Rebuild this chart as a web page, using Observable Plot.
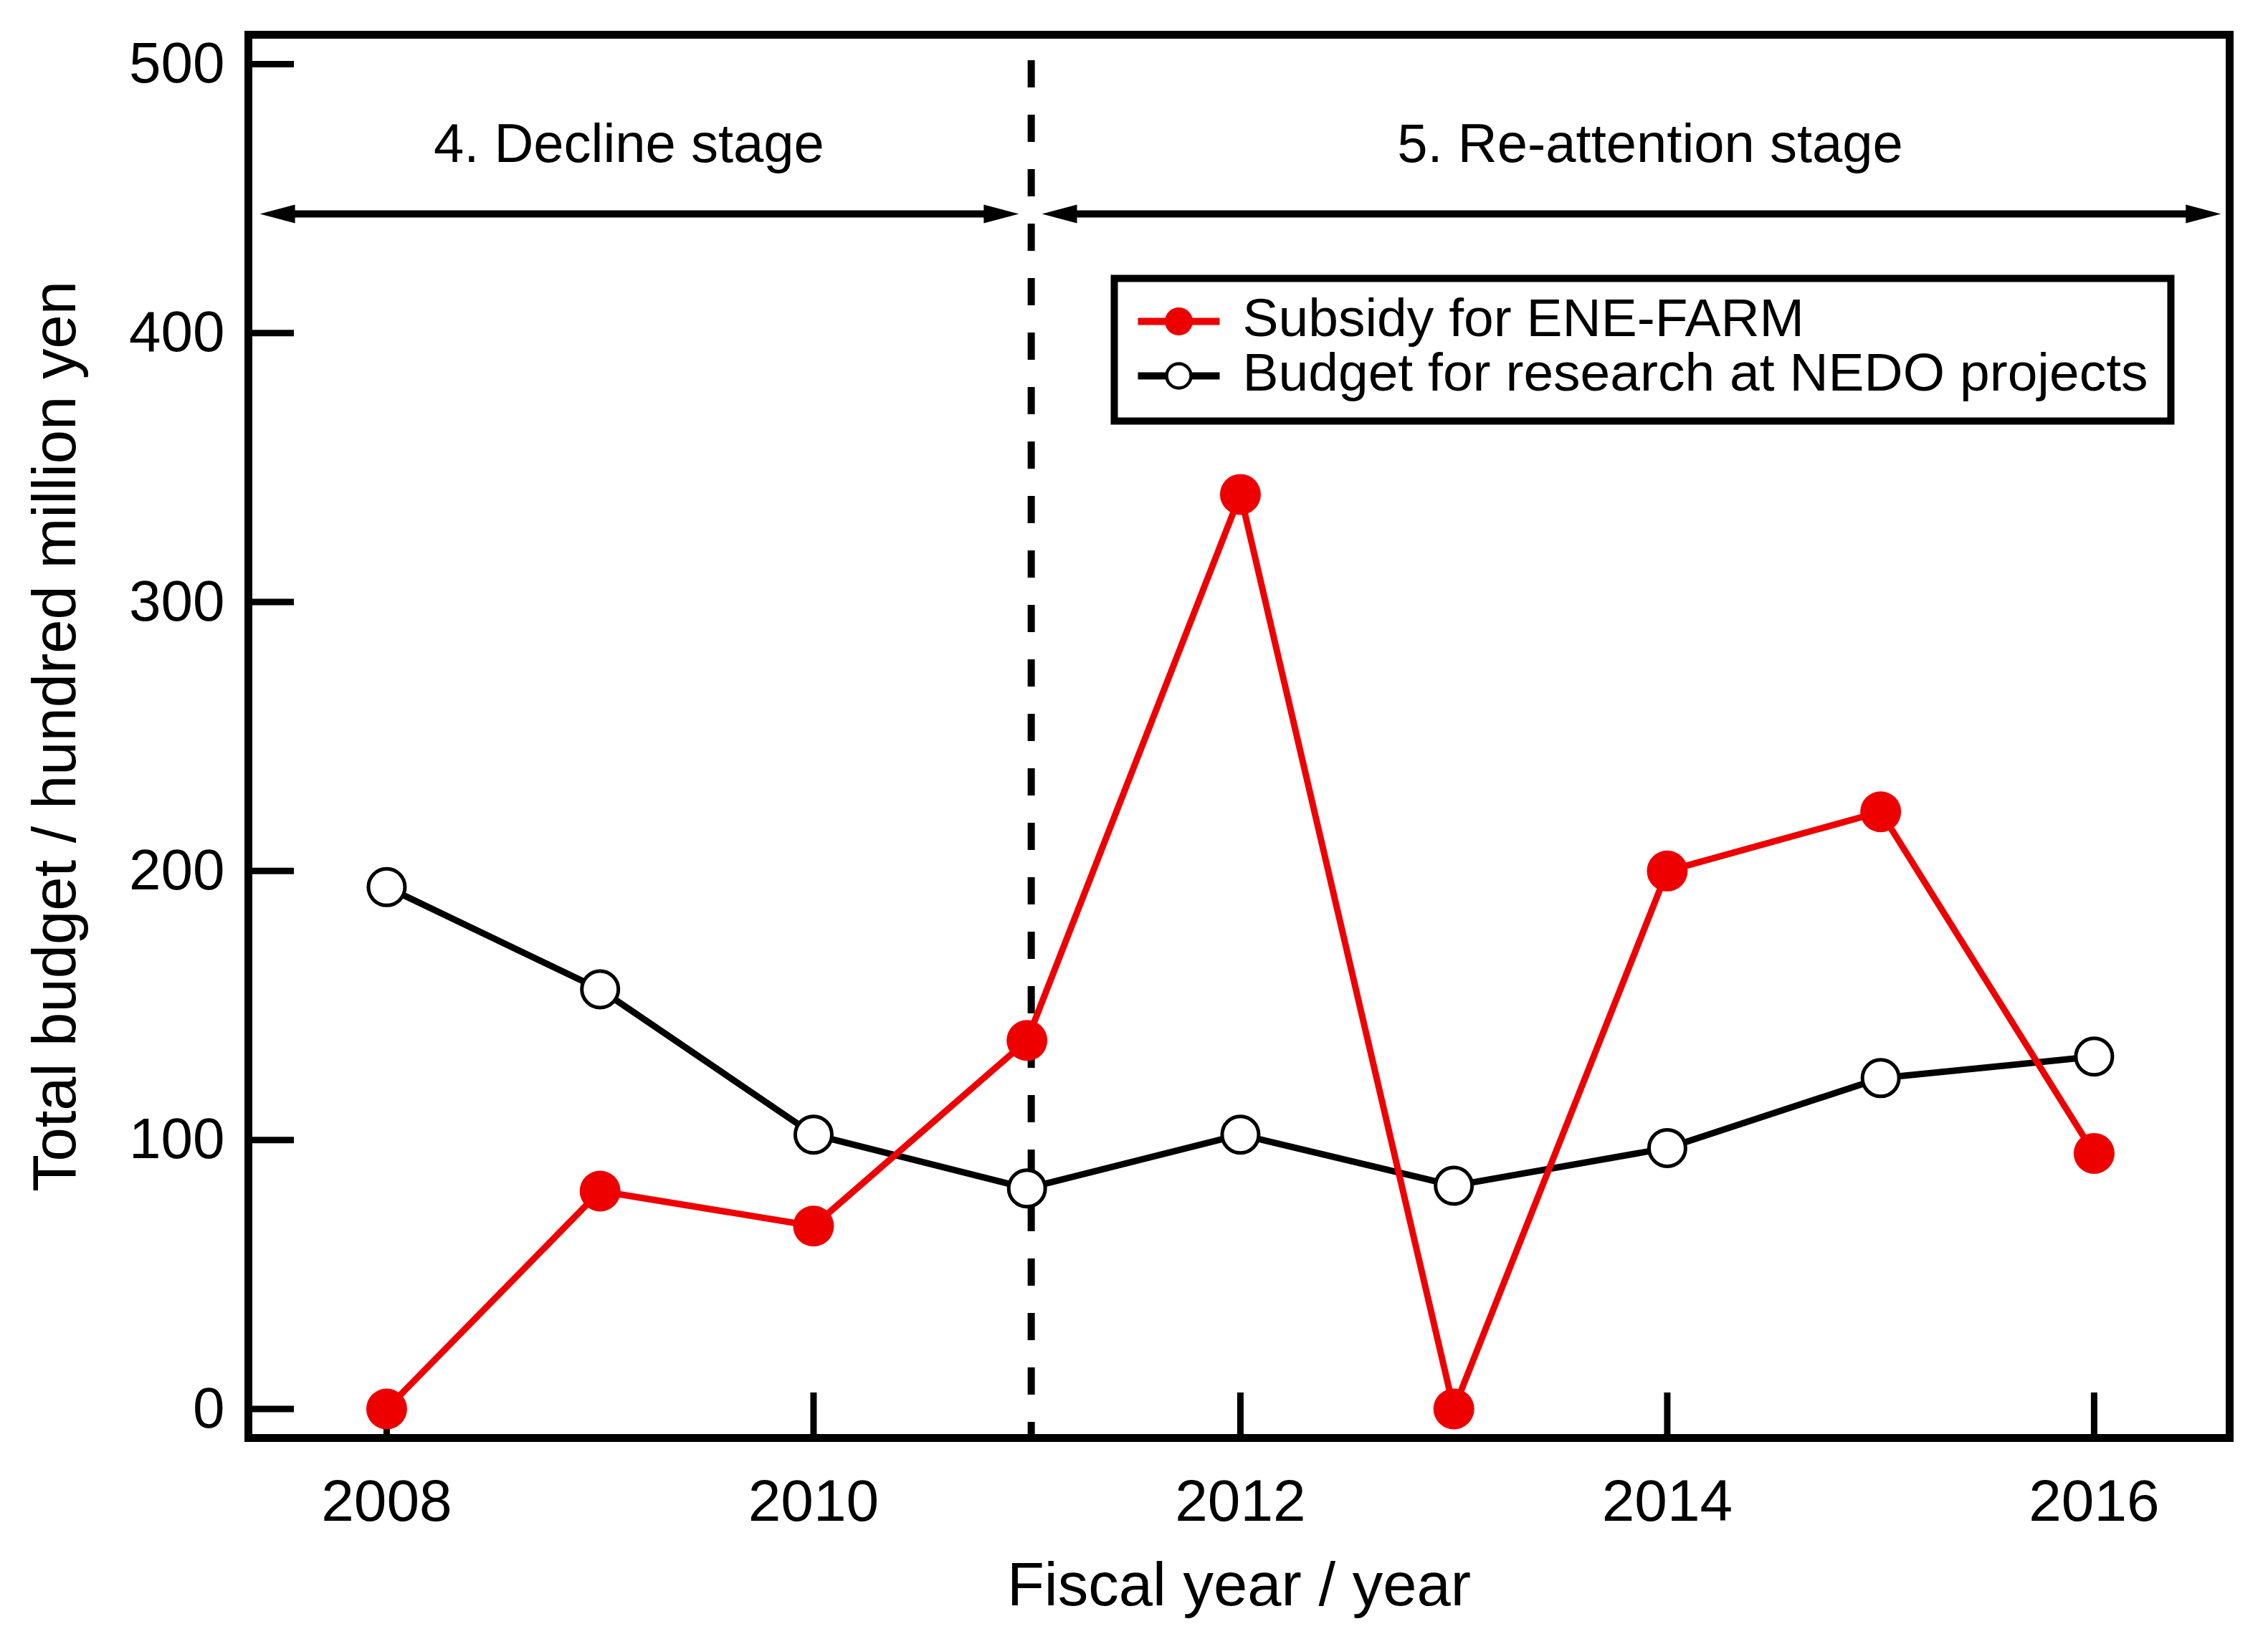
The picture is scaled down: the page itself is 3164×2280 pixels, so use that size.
<!DOCTYPE html>
<html>
<head>
<meta charset="utf-8">
<script src="https://cdn.jsdelivr.net/npm/d3@7"></script>
<script src="https://cdn.jsdelivr.net/npm/@observablehq/plot@0.6"></script>
<style>
  html, body { margin: 0; padding: 0; background: #fff; }
  #chart { width: 3164px; height: 2280px; }
</style>
</head>
<body>
<div id="chart"></div>
<script>
// ---- data ----
const years = [2008, 2009, 2010, 2011, 2012, 2013, 2014, 2015, 2016];
const subsidy = [0, 81, 68, 137, 340, 0, 200, 222, 95];
const nedo = [194, 156, 102, 82, 102, 83, 97, 123, 131];
const seriesNames = ["Subsidy for ENE-FARM", "Budget for research at NEDO projects"];
const xTicks = [2008, 2010, 2012, 2014, 2016];
const yTicks = [0, 100, 200, 300, 400, 500];
const stageNames = ["4. Decline stage", "5. Re-attention stage"];
const stageLabelX = [2009.135, 2013.92];
const stageBoundary = [2011.02];
const stageSpans = [[2007.406, 2010.962], [2011.07, 2016.594]];
const xTitle = "Fiscal year / year";
const yTitle = "Total budget / hundred million yen";

// ---- layout ----
const W = 3164, H = 2280;
const ml = 346, mr = 54, mt = 48, mb = 274;
const xDom = [2007.352, 2016.635];
const yDom = [-10.8, 510.9];
const pw = W - ml - mr, ph = H - mt - mb;
const X = px => xDom[0] + (px - ml) / pw * (xDom[1] - xDom[0]);
const Y = py => yDom[1] - (py - mt) / ph * (yDom[1] - yDom[0]);
const dX = px => px / pw * (xDom[1] - xDom[0]);
const RED = "#ee0000";
const FONT = "'Liberation Sans', Arial, Helvetica, sans-serif";

const redData = years.map((y, i) => ({year: y, value: subsidy[i]}));
const blkData = years.map((y, i) => ({year: y, value: nedo[i]}));

// arrows
const arrowY = 444.3;
const headLen = 49, headHalf = 13;
const headLeft = {draw(ctx) { ctx.moveTo(0, 0); ctx.lineTo(headLen, -headHalf); ctx.lineTo(headLen, headHalf); ctx.closePath(); }};
const headRight = {draw(ctx) { ctx.moveTo(0, 0); ctx.lineTo(-headLen, -headHalf); ctx.lineTo(-headLen, headHalf); ctx.closePath(); }};
const arrowLinks = stageSpans.map(([a, b]) => ({x1: a + dX(headLen - 6), x2: b - dX(headLen - 6), y: arrowY}));
const leftHeads = stageSpans.map(([a]) => ({x: a, y: arrowY}));
const rightHeads = stageSpans.map(([, b]) => ({x: b, y: arrowY}));
const stageLabels = stageNames.map((s, i) => ({text: s, x: stageLabelX[i], y: 470.2}));

// legend (pixel geometry converted into data units)
const legRowsPy = [448, 524];
const legLines = legRowsPy.map(py => ({x1: X(1587), x2: X(1701), y: Y(py)}));
const legMarks = legRowsPy.map(py => ({x: X(1644), y: Y(py)}));
const legTexts = seriesNames.map((s, i) => ({text: s, x: X(1733), y: Y(legRowsPy[i] - 4)}));

const chart = Plot.plot({
  width: W, height: H,
  marginLeft: ml, marginRight: mr, marginTop: mt, marginBottom: mb,
  style: {fontFamily: FONT, background: "#fff", color: "#000"},
  x: {domain: xDom, label: null},
  y: {domain: yDom, label: null},
  marks: [
    // dashed boundary
    Plot.ruleX(stageBoundary, {x: d => d, y1: Y(84), y2: yDom[0], stroke: "#000", strokeWidth: 10, strokeDasharray: "38,38"}),
    // stage arrows
    Plot.link(arrowLinks, {x1: "x1", x2: "x2", y1: "y", y2: "y", stroke: "#000", strokeWidth: 10}),
    Plot.dot(leftHeads, {x: "x", y: "y", symbol: headLeft, r: 10, fill: "#000", stroke: "none"}),
    Plot.dot(rightHeads, {x: "x", y: "y", symbol: headRight, r: 10, fill: "#000", stroke: "none"}),
    Plot.text(stageLabels, {x: "x", y: "y", text: "text", fontSize: 76, fill: "#000", lineAnchor: "middle"}),
    // ticks inward
    Plot.tickY(yTicks, {y: d => d, insetRight: pw - 64, stroke: "#000", strokeWidth: 9}),
    Plot.tickX(xTicks, {x: d => d, insetTop: ph - 63, stroke: "#000", strokeWidth: 9}),
    Plot.axisY(yTicks, {tickSize: 0, tickPadding: 33, fontSize: 80, label: null, tickFormat: d => String(d)}),
    Plot.axisX(xTicks, {tickSize: 0, tickPadding: 57, fontSize: 82, label: null, tickFormat: d => String(d)}),
    // axis titles
    Plot.text([xTitle], {frameAnchor: "bottom", dy: 206, fontSize: 85, textAnchor: "middle", lineAnchor: "middle", text: d => d}),
    Plot.text([yTitle], {frameAnchor: "left", dx: 77 - ml, rotate: -90, fontSize: 85, textAnchor: "middle", lineAnchor: "middle", text: d => d}),
    // series
    Plot.line(blkData, {x: "year", y: "value", stroke: "#000", strokeWidth: 9}),
    Plot.dot(blkData, {x: "year", y: "value", r: 25.5, fill: "#fff", stroke: "#000", strokeWidth: 5}),
    Plot.line(redData, {x: "year", y: "value", stroke: RED, strokeWidth: 9}),
    Plot.dot(redData, {x: "year", y: "value", r: 28.5, fill: RED, stroke: "none"}),
    // legend
    Plot.frame({insetLeft: 1554 - ml, insetTop: 388 - mt, insetRight: (W - mr) - 3028, insetBottom: (H - mb) - 587, stroke: "#000", strokeWidth: 10, fill: "#fff"}),
    Plot.link(legLines.slice(0, 1), {x1: "x1", x2: "x2", y1: "y", y2: "y", stroke: RED, strokeWidth: 10}),
    Plot.link(legLines.slice(1), {x1: "x1", x2: "x2", y1: "y", y2: "y", stroke: "#000", strokeWidth: 10}),
    Plot.dot(legMarks.slice(0, 1), {x: "x", y: "y", r: 19.5, fill: RED, stroke: "none"}),
    Plot.dot(legMarks.slice(1), {x: "x", y: "y", r: 17, fill: "#fff", stroke: "#000", strokeWidth: 4.5}),
    Plot.text(legTexts, {x: "x", y: "y", text: "text", textAnchor: "start", lineAnchor: "middle", fontSize: 75, fill: "#000"}),
    // outer frame
    Plot.frame({stroke: "#000", strokeWidth: 11})
  ]
});
document.getElementById("chart").append(chart);
</script>
</body>
</html>
